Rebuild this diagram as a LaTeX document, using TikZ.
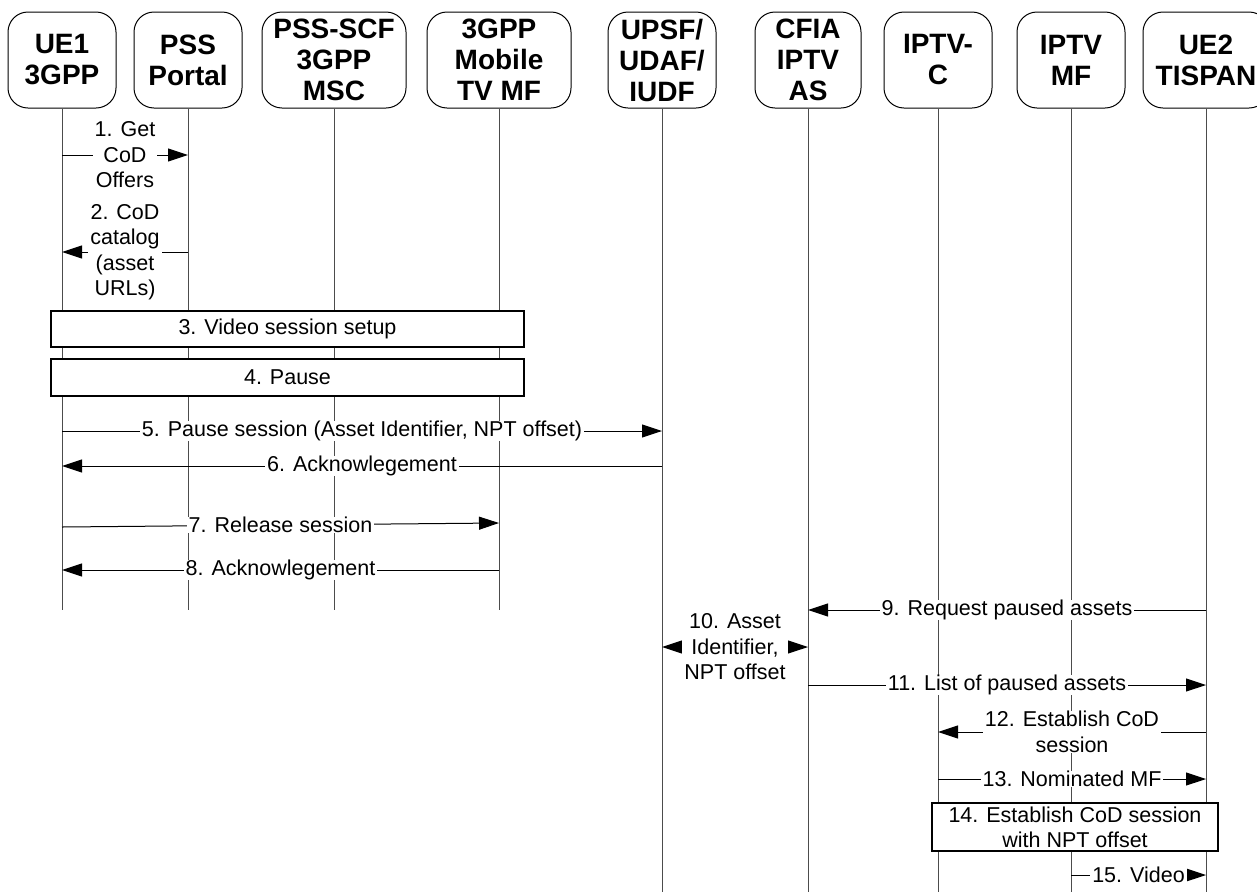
\documentclass[tikz,border=0pt]{standalone}
\usepackage{fontspec}
\setmainfont{Liberation Sans}
\usetikzlibrary{arrows.meta,positioning}
\tikzset{ent/.style={draw=black,line width=1pt,rounded corners=20pt,align=center,minimum height=96pt,inner sep=0pt,font=\bfseries\fontsize{28}{31}\selectfont},life/.style={draw=black!70,line width=1pt},msg/.style={-{Triangle[length=20pt,width=13pt]},line width=1pt},both/.style={{Triangle[length=20pt,width=13pt]}-{Triangle[length=20pt,width=13pt]},line width=1pt},lab/.style={fill=white,inner xsep=2pt,inner ysep=0pt,align=center,font=\fontsize{21.5}{25.5}\selectfont},stepbox/.style={draw=black,fill=white,line width=1.2pt,align=center,inner sep=0pt,font=\fontsize{21.5}{25}\selectfont}}

\begin{document}
\begin{tikzpicture}[x=1pt,y=1pt]
\useasboundingbox (0,0) rectangle (1257,-892);
\node[ent,minimum width=108pt] (ue1) at (62,-60) {UE1\\3GPP};
\node[ent,minimum width=108pt] (pss) at (188,-60) {PSS\\Portal};
\node[ent,minimum width=144pt] (scf) at (334,-60) {PSS-SCF\\3GPP\\MSC};
\node[ent,minimum width=144pt] (mtv) at (499,-60) {3GPP\\Mobile\\TV MF};
\node[ent,minimum width=108pt] (upsf) at (662,-60) {UPSF/\\UDAF/\\IUDF};
\node[ent,minimum width=106pt] (cfia) at (808,-60) {CFIA\\IPTV\\AS};
\node[ent,minimum width=108pt] (iptvc) at (938,-60) {IPTV-\\C};
\node[ent,minimum width=108pt] (iptvmf) at (1071,-60) {IPTV\\MF};
\node[ent,minimum width=126pt] (ue2) at (1206,-60) {UE2\\TISPAN};
\foreach \n in {ue1,pss,scf,mtv}{\draw[life](\n.south)--(\n.south |- 0,-610);}
\foreach \n in {upsf,cfia,iptvc,iptvmf,ue2}{\draw[life](\n.south)--(\n.south |- 0,-892);}
\draw[msg](ue1.south |- 0,-155)--(pss.south |- 0,-155) node[lab,midway]{1. Get\\CoD\\Offers};
\draw[msg](pss.south |- 0,-252)--(ue1.south |- 0,-252) node[lab,midway]{2. CoD\\catalog\\(asset\\URLs)};
\node[stepbox,minimum width=473pt,minimum height=36pt] (s3) at (287.5,-329) {3. Video session setup};
\node[stepbox,minimum width=473pt,minimum height=37pt] (s4) at (287.5,-377.5) {4. Pause};
\draw[msg](ue1.south |- 0,-431)--(upsf.south |- 0,-431) node[lab,midway]{5. Pause session (Asset Identifier, NPT offset)};
\draw[msg](upsf.south |- 0,-466)--(ue1.south |- 0,-466) node[lab,midway]{6. Acknowlegement};
\draw[msg](ue1.south |- 0,-527)--(mtv.south |- 0,-523) node[lab,midway]{7. Release session};
\draw[msg](mtv.south |- 0,-570)--(ue1.south |- 0,-570) node[lab,midway]{8. Acknowlegement};
\draw[msg](ue2.south |- 0,-610)--(cfia.south |- 0,-610) node[lab,midway]{9. Request paused assets};
\draw[both](upsf.south |- 0,-647)--(cfia.south |- 0,-647) node[lab,midway]{10. Asset\\Identifier,\\NPT offset};
\draw[msg](cfia.south |- 0,-685)--(ue2.south |- 0,-685) node[lab,midway]{11. List of paused assets};
\draw[msg](ue2.south |- 0,-732)--(iptvc.south |- 0,-732) node[lab,midway]{12. Establish CoD\\session};
\draw[msg](iptvc.south |- 0,-779)--(ue2.south |- 0,-779) node[lab,midway]{13. Nominated MF};
\node[stepbox,minimum width=286pt,minimum height=48pt] (s14) at (1075,-827) {14. Establish CoD session\\with NPT offset};
\draw[msg](iptvmf.south |- 0,-875)--(ue2.south |- 0,-875) node[lab,midway]{15. Video};
\end{tikzpicture}
\end{document}
